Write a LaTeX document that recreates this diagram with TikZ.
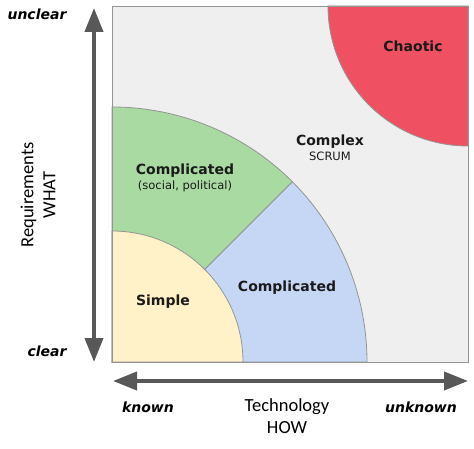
\documentclass[tikz,border=0pt]{standalone}
\usepackage{fontspec}
\setmainfont{DejaVu Sans}
\newfontfamily\calibri{Carlito}
\usetikzlibrary{arrows.meta}
\definecolor{bggray}{HTML}{EFEFEF}
\definecolor{edgegray}{HTML}{949494}
\definecolor{axisgray}{HTML}{585858}
\definecolor{chaosred}{HTML}{EF5062}
\definecolor{socgreen}{HTML}{A9DAA1}
\definecolor{techblue}{HTML}{C6D7F6}
\definecolor{simpleyellow}{HTML}{FFF2C8}
\definecolor{labelblack}{HTML}{1A1A1A}

\begin{document}
\begin{tikzpicture}[x=1pt,y=-1pt,
    region/.style={draw=edgegray, line width=0.8pt},
    axis/.style={draw=axisgray, line width=4pt, {Triangle[length=24pt,width=18pt]}-{Triangle[length=24pt,width=18pt]}},
    zone/.style={font=\bfseries\fontsize{14}{16}\selectfont, text=labelblack},
    zonenote/.style={font=\fontsize{11.5}{14}\selectfont, text=labelblack},
    endlabel/.style={font=\bfseries\itshape\fontsize{14}{16}\selectfont, text=black},
    axislabel/.style={font=\calibri\fontsize{18.5}{22}\selectfont, align=center, text=black}]
    \useasboundingbox (0,0) rectangle (474,449);
    \coordinate (O) at (112,362);
    \coordinate (TR) at (468,6);
    \fill[bggray] (O) rectangle (TR);
    \draw[region, fill=chaosred] (TR) -- ++(-140,0) arc[start angle=180, end angle=90, radius=140] -- cycle;
    \draw[region, fill=techblue] (O) -- ++(255,0) arc[start angle=0, end angle=-45, radius=255] -- cycle;
    \draw[region, fill=socgreen] (O) -- ([shift={(O)}]-45:255) arc[start angle=-45, end angle=-90, radius=255] -- cycle;
    \draw[region, fill=simpleyellow] (O) -- ++(131,0) arc[start angle=0, end angle=-90, radius=131] -- cycle;
    \draw[region] (O) rectangle (TR);

    \coordinate (vtop) at (94,8);
    \coordinate (vbot) at (94,362);
    \coordinate (hleft) at (113,381);
    \coordinate (hright) at (468,381);
    \draw[axis] (vbot) -- (vtop);
    \draw[axis] (hleft) -- (hright);

    \node[endlabel] (unclear) at (37,14) {unclear};
    \node[endlabel] (clear) at (47,351) {clear};
    \node[endlabel] (known) at (148,407) {known};
    \node[endlabel] (unknown) at (421,407) {unknown};
    \node[axislabel] (how) at (287,416) {Technology\\HOW};
    \node[axislabel, rotate=90] (what) at (38,195) {Requirements\\WHAT};

    \node[zone] (chaotic) at (413,46) {Chaotic};
    \node[zone] (complex) at (330,142) {Complex};
    \node[zonenote] (scrum) at (330,156) {SCRUM};
    \node[zone] (compsoc) at (185,171) {Complicated};
    \node[zonenote] (social) at (185,186) {(social, political)};
    \node[zone] (comptech) at (287,288) {Complicated};
    \node[zone] (simple) at (163,302) {Simple};
\end{tikzpicture}
\end{document}
